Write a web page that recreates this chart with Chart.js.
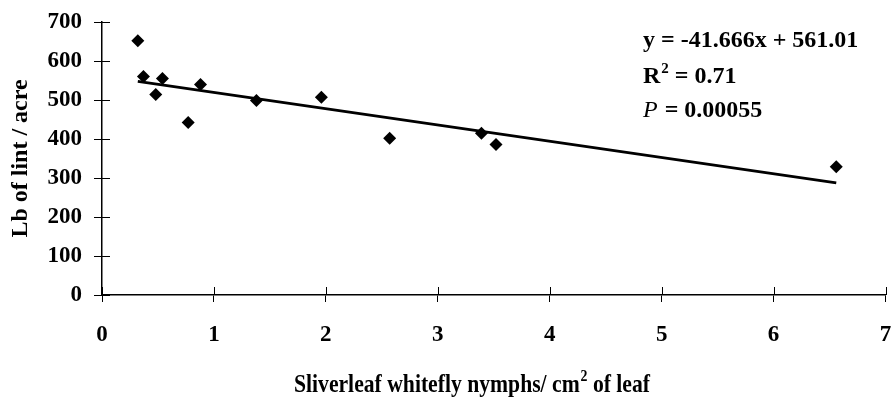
<!DOCTYPE html>
<html>
<head>
<meta charset="utf-8">
<script src="https://cdn.jsdelivr.net/npm/chart.js@4"></script>
<style>
  html, body { margin: 0; padding: 0; background: #fff; }
  #wrap { width: 892px; height: 397px; }
</style>
</head>
<body>
<div id="wrap"><canvas id="whiteflyChart"></canvas></div>
<script>
// whitefly nymph density vs lint yield
const nymphs = [0.32, 0.37, 0.48, 0.54, 0.77, 0.88, 1.38, 1.96, 2.57, 3.39, 3.52, 6.56];
const lint = [652, 560, 514, 555, 442, 540, 499, 507, 402, 415, 386, 329];
const yTicks = [0, 100, 200, 300, 400, 500, 600, 700];
const xTicks = [0, 1, 2, 3, 4, 5, 6, 7];
const slope = -41.666;
const intercept = 561.01;
const equation = "y = -41.666x + 561.01";
const rSquared = "0.71";
const pValue = "0.00055";
const xTitleParts = ["Sliverleaf whitefly nymphs/ cm", "2", " of leaf"];

const FONT = "'Liberation Serif', 'Times New Roman', serif";

// trendline across the range of the data
const xMin = Math.min(...nymphs);
const xMax = Math.max(...nymphs);
const trend = [
    { x: xMin, y: slope * xMin + intercept },
    { x: xMax, y: slope * xMax + intercept },
];

// inner half of the cross ticks, x title with superscript, regression text
const extrasPlugin = {
    id: "extras",
    afterDraw(chart) {
        const { ctx, chartArea, scales } = chart;
        const xs = scales.x, ys = scales.y;
        ctx.save();
        ctx.strokeStyle = "#000";
        ctx.lineWidth = 1;
        yTicks.forEach(v => {
            const py = Math.round(ys.getPixelForValue(v)) + 0.5;
            ctx.beginPath();
            ctx.moveTo(chartArea.left, py);
            ctx.lineTo(chartArea.left + 8, py);
            ctx.stroke();
        });
        xTicks.forEach(v => {
            const px = Math.round(xs.getPixelForValue(v)) + 0.5;
            ctx.beginPath();
            ctx.moveTo(px, chartArea.bottom);
            ctx.lineTo(px, chartArea.bottom - 8);
            ctx.stroke();
        });

        ctx.fillStyle = "#000";
        ctx.textBaseline = "alphabetic";
        ctx.textAlign = "left";

        // x axis title (condensed a little, like the original)
        const big = "bold 25px " + FONT, sup = "bold 16px " + FONT;
        ctx.font = big;
        const w0 = ctx.measureText(xTitleParts[0]).width;
        const w2 = ctx.measureText(xTitleParts[2]).width;
        ctx.font = sup;
        const w1 = ctx.measureText(xTitleParts[1]).width + 1;
        const sx = 356 / (w0 + w1 + w2);
        ctx.save();
        ctx.translate(294, 392);
        ctx.scale(sx, 1);
        ctx.font = big;
        ctx.fillText(xTitleParts[0], 0, 0);
        ctx.font = sup;
        ctx.fillText(xTitleParts[1], w0 + 1, -11);
        ctx.font = big;
        ctx.fillText(xTitleParts[2], w0 + w1, 0);
        ctx.restore();

        // equation block
        const tx = 643;
        ctx.font = "bold 24px " + FONT;
        ctx.fillText(equation, tx, 47);

        ctx.fillText("R", tx, 83);
        let w = ctx.measureText("R").width;
        ctx.font = "bold 15px " + FONT;
        ctx.fillText("2", tx + w + 1, 73);
        let ws = ctx.measureText("2").width;
        ctx.font = "bold 24px " + FONT;
        ctx.fillText(" = " + rSquared, tx + w + ws + 1, 83);

        ctx.font = "italic 24px " + FONT;
        ctx.fillText("P", tx, 117);
        w = ctx.measureText("P").width;
        ctx.font = "bold 24px " + FONT;
        ctx.fillText(" = " + pValue, tx + w + 1, 117);
        ctx.restore();
    },
};

function initializeChart() {
    const ctx = document.getElementById("whiteflyChart");
    new Chart(ctx, {
        type: "scatter",
        data: {
            datasets: [
                {
                    label: "Lint yield",
                    data: nymphs.map((x, i) => ({ x: x, y: lint[i] })),
                    pointStyle: "rectRot",
                    pointRadius: 6.5,
                    pointHoverRadius: 6.5,
                    backgroundColor: "#000",
                    borderColor: "#000",
                    borderWidth: 0,
                },
                {
                    label: "Trend",
                    type: "line",
                    data: trend,
                    borderColor: "#000",
                    borderWidth: 2.75,
                    pointRadius: 0,
                    fill: false,
                },
            ],
        },
        options: {
            responsive: true,
            maintainAspectRatio: false,
            animation: false,
            layout: { padding: { top: 22, right: 6, left: 0, bottom: 0 } },
            plugins: {
                legend: { display: false },
                tooltip: { enabled: false },
            },
            scales: {
                x: {
                    type: "linear",
                    min: 0,
                    max: 7,
                    afterBuildTicks: s => { s.ticks = xTicks.map(v => ({ value: v })); },
                    afterFit: s => {
                        s.height = 102;
                        s.paddingLeft = 0;
                        s.paddingRight = 0;
                    },
                    border: { display: true, color: "#000", width: 1.5 },
                    grid: { display: true, drawOnChartArea: false, drawTicks: true, tickLength: 7, color: "#000" },
                    ticks: {
                        color: "#000",
                        padding: 19,
                        maxRotation: 0,
                        font: { family: FONT, size: 23, weight: "bold" },
                    },
                    title: { display: false },
                },
                y: {
                    type: "linear",
                    min: 0,
                    max: 700,
                    afterBuildTicks: s => { s.ticks = yTicks.map(v => ({ value: v })); },
                    afterFit: s => {
                        s.width = 102;
                        s.paddingTop = 0;
                        s.paddingBottom = 0;
                    },
                    border: { display: true, color: "#000", width: 1.5 },
                    grid: { display: true, drawOnChartArea: false, drawTicks: true, tickLength: 8, color: "#000" },
                    ticks: {
                        color: "#000",
                        padding: 12,
                        font: { family: FONT, size: 23, weight: "bold" },
                    },
                    title: {
                        display: true,
                        text: "Lb of lint / acre",
                        color: "#000",
                        padding: { top: 6, bottom: 0 },
                        font: { family: FONT, size: 24, weight: "bold" },
                    },
                },
            },
        },
        plugins: [extrasPlugin],
    });
}

document.addEventListener("DOMContentLoaded", initializeChart);
</script>
</body>
</html>
